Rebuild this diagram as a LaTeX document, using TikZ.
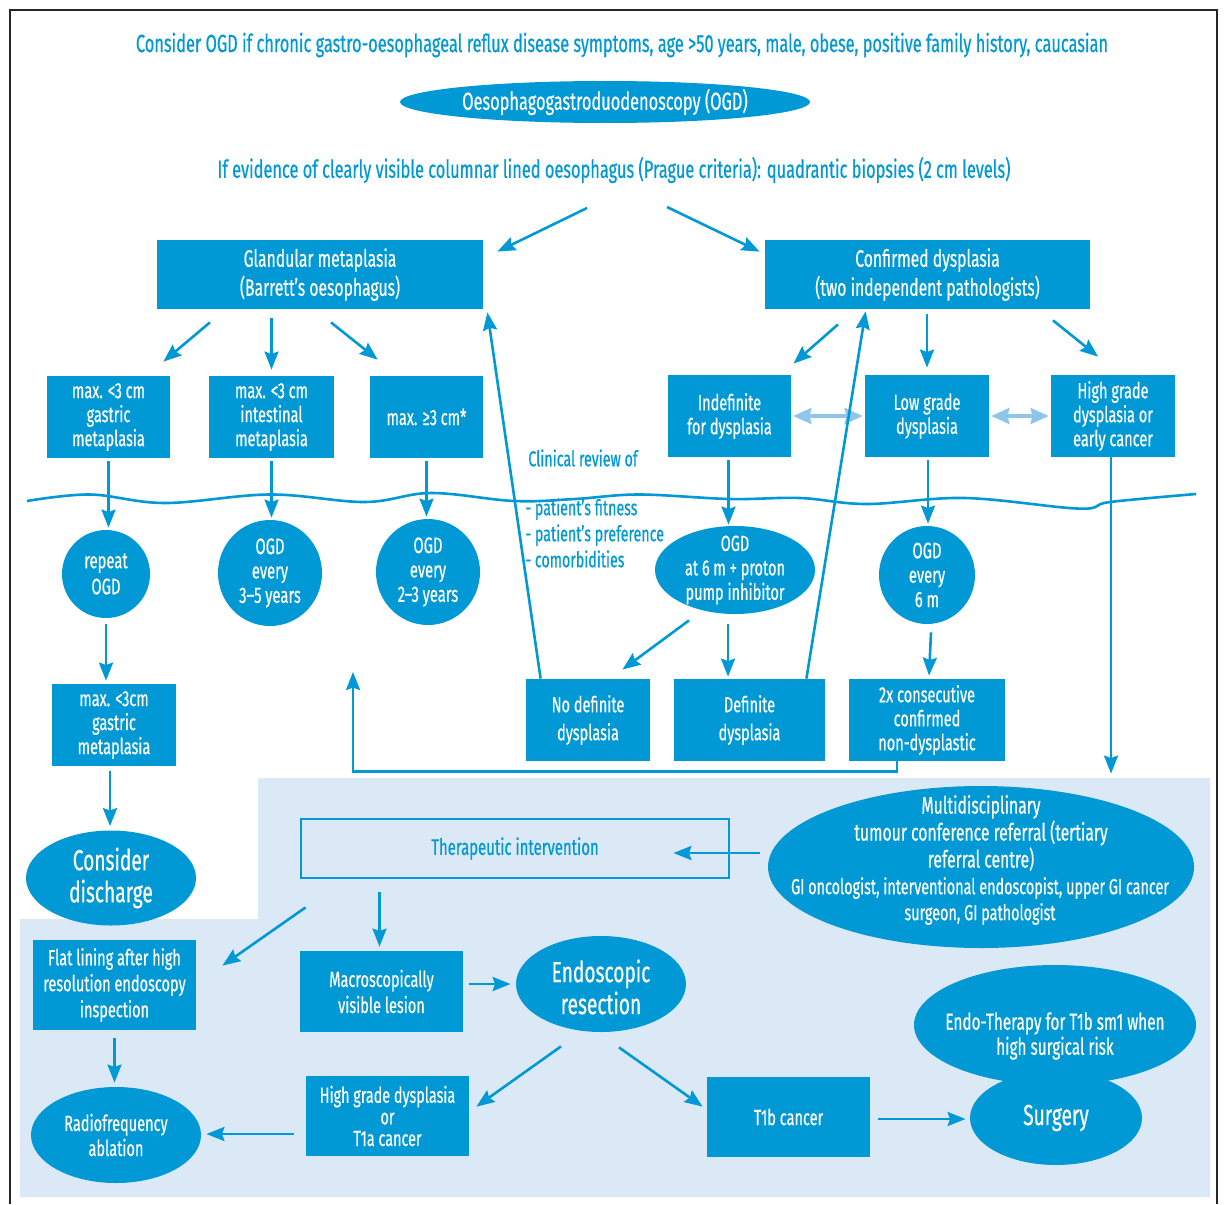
\documentclass[tikz,border=0pt]{standalone}
\usepackage{fontspec}
\setmainfont{Fira Sans}[FakeStretch=0.66,FakeBold=0.5]
\usetikzlibrary{arrows.meta,shapes.geometric,calc}
\definecolor{cb}{HTML}{0099D5}
\definecolor{lb}{HTML}{DBE9F6}
\definecolor{la}{HTML}{8EC5EA}
\newdimen\px \px=0.5pt
\newcommand\fsz[2]{\fontsize{#1pt}{#2pt}\selectfont}
\begin{document}
\begin{tikzpicture}[x=0.5pt,y=-0.5pt,
 sz/.style 2 args={minimum width=#1\px,minimum height=#2\px},
 bx/.style={rectangle,fill=cb,text=white,align=center,inner sep=0pt,font=\fsz{11}{12}},
 el/.style={ellipse,fill=cb,inner sep=0pt},
 elt/.style={text=white,align=center,inner sep=0pt,font=\fsz{11}{12.5}},
 bt/.style={text=cb,inner sep=0pt},
 ar/.style={draw=cb,line width=1.3pt,-{Stealth[length=9pt,width=7pt,inset=1.2pt]}},
 dar/.style={draw=la,line width=1.7pt,{Stealth[length=9pt,width=8pt,inset=1pt]}-{Stealth[length=9pt,width=8pt,inset=1pt]}},
 ln/.style={draw=cb,line width=1.3pt}]
\useasboundingbox (0,0) rectangle (1224,1204);
\fill[white] (0,0) rectangle (1224,1204);
\fill[lb] (258,778) -- (1210,778) -- (1210,1197) -- (20,1197) -- (20,919) -- (258,919) -- cycle;
\draw[black!85,line width=0.8pt] (10,1204) -- (10,10) -- (1217,10) -- (1217,1204);
% wavy line
\draw[ln] plot[smooth,tension=0.6] coordinates {(27,501) (90,494.5) (165,503) (270,494.5) (365,502) (431,493) (514,501) (575,499) (639,494.5) (730,499) (800,498) (867,504) (965,498) (1079,508.6) (1110,502) (1196,494)};
% top
\node[bt,font=\fsz{12.4}{14}] (top) at (622,45) {Consider OGD if chronic gastro-oesophageal reflux disease symptoms, age >50\,years, male, obese, positive family history, caucasian};
\node[el,sz={410}{42}] (ogd) at (605,102) {};
\node[elt,font=\fsz{12.4}{14}] (ogdt) at (605,102) {Oesophagogastroduodenoscopy (OGD)};
\node[bt,font=\fsz{12.4}{14}] (ev) at (614,170) {If evidence of clearly visible columnar lined oesophagus (Prague criteria): quadrantic biopsies (2\,cm levels)};
% row 1
\node[bx,sz={326}{69},font=\fsz{11.9}{14.5}] (gland) at (320,274.5) {Glandular metaplasia\\(Barrett’s oesophagus)};
\node[bx,sz={325}{69},font=\fsz{11.9}{14.5}] (conf) at (927.5,274.5) {Confirmed dysplasia\\(two independent pathologists)};
% row 2
\node[bx,sz={123}{82}] (mA) at (108.5,417) {max. <3\,cm\\gastric\\metaplasia};
\node[bx,sz={125}{82}] (mB) at (271.5,417) {max. <3\,cm\\intestinal\\metaplasia};
\node[bx,sz={113}{82}] (mC) at (426.5,417) {max. ≥3\,cm*};
\node[bx,sz={123}{82}] (ind) at (729.5,416) {Indefinite\\for dysplasia};
\node[bx,sz={124}{82}] (lgd) at (927,416) {Low grade\\dysplasia};
\node[bx,sz={124}{82}] (hgd1) at (1113,416) {High grade\\dysplasia or\\early cancer};
\node[bt,font=\fsz{10.8}{13}] (clin) at (583,458) {Clinical review of};
\node[bt,font=\fsz{10.8}{13},align=left,anchor=north west] (crit) at (525,498) {- patient’s fitness\\- patient’s preference\\- comorbidities};
% row 3
\node[el,sz={88}{88}] (rep) at (106,574) {};
\node[elt,font=\fsz{11.2}{13}] (rept) at (106,574) {repeat\\OGD};
\node[el,sz={104}{106}] (e35) at (270,573) {};
\node[elt,font=\fsz{11.2}{12.2}] (e35t) at (270,573) {OGD\\every\\3–5\,years};
\node[el,sz={104}{106}] (e23) at (428,572) {};
\node[elt,font=\fsz{11.2}{12.2}] (e23t) at (428,572) {OGD\\every\\2–3\,years};
\node[el,sz={160}{88}] (ppi) at (735,570) {};
\node[elt,font=\fsz{11}{12.2}] (ppit) at (735,570) {OGD\\at 6\,m + proton\\pump inhibitor};
\node[el,sz={96}{98}] (e6) at (927,575) {};
\node[elt,font=\fsz{11.2}{12.2}] (e6t) at (927,575) {OGD\\every\\6\,m};
% row 4
\node[bx,sz={124}{82}] (mD) at (114,725) {max. <3cm\\gastric\\metaplasia};
\node[bx,sz={124}{82},font=\fsz{11}{14}] (nodef) at (588,720) {No definite\\dysplasia};
\node[bx,sz={151}{82},font=\fsz{11}{14}] (def) at (749.5,720) {Definite\\dysplasia};
\node[bx,sz={156}{82}] (cons) at (927,720) {2x consecutive\\confirmed\\non-dysplastic};
% lower part
\node[el,sz={170}{95}] (dis) at (111,878) {};
\node[elt,font=\fsz{14.5}{16}] (dist) at (111,878) {Consider\\discharge};
\node[el,sz={426}{162}] (mdt) at (981,867) {};
\node[elt,font=\fsz{11.9}{13.5}] (mdta) at (981,833) {Multidisciplinary\\tumour conference referral (tertiary\\referral centre)};
\node[elt,font=\fsz{10.9}{13}] (mdtb) at (980,901) {GI oncologist, interventional endoscopist, upper GI cancer\\surgeon, GI pathologist};
\node[draw=cb,line width=1.4pt,sz={428}{59},text=cb,font=\fsz{11.3}{13},inner sep=0pt] (ther) at (515,848.5) {Therapeutic intervention};
\node[bx,sz={163}{90},font=\fsz{11}{13}] (flat) at (114.5,985) {Flat lining after high\\resolution endoscopy\\inspection};
\node[bx,sz={163}{81},font=\fsz{11}{13}] (macro) at (381.5,991.5) {Macroscopically\\visible lesion};
\node[el,sz={170}{96}] (endo) at (601,984) {};
\node[elt,font=\fsz{14.5}{16}] (endot) at (601,987) {Endoscopic\\resection};
\node[bx,sz={163}{80},font=\fsz{10.9}{10.8}] (hgd2) at (387.5,1116) {High grade dysplasia\\or\\T1a cancer};
\node[el,sz={170}{96}] (rfa) at (116,1135) {};
\node[elt] (rfat) at (116,1135) {Radiofrequency\\ablation};
\node[bx,sz={163}{80}] (t1b) at (788.5,1117) {T1b cancer};
\node[el,sz={282}{120}] (eth) at (1055,1025) {};
\node[el,sz={172}{94}] (surg) at (1056,1118) {};
\node[elt,font=\fsz{11.6}{12.5}] (etht) at (1055,1036) {Endo-Therapy for T1b sm1 when\\high surgical risk};
\node[elt,font=\fsz{14.5}{16}] (surgt) at (1056,1118) {Surgery};
% double arrows
\draw[dar] ($(ind.east)+(2,0)$) -- ($(lgd.west)+(-2,0)$);
\draw[dar] ($(lgd.east)+(2,0)$) -- ($(hgd1.west)+(-2,0)$);
% arrows
\draw[ar] ($(ev.center)+(-27,38)$) -- ($(gland.north east)+(14,12)$);
\draw[ar] ($(ev.center)+(53,37)$) -- ($(conf.north west)+(-5,12)$);
\draw[ar] ($(gland.south)+(-110,13)$) -- ($(mA.north east)+(-7,-14)$);
\draw[ar] ($(gland.south -| mB.north)+(0,9)$) -- ($(mB.north)+(0,-6)$);
\draw[ar] ($(gland.south)+(11,13)$) -- ($(mC.north west)+(8,-16)$);
\draw[ar] ($(conf.south)+(-89.5,15)$) -- ($(ind.north east)+(2,-11)$);
\draw[ar] ($(conf.south -| lgd.north)+(0,5)$) -- ($(lgd.north)+(0,-7)$);
\draw[ar] ($(conf.south)+(125.5,11)$) -- ($(hgd1.north)+(-15,-18)$);
\draw[ar] ($(mA.south)+(0,3)$) -- ($(mA.south |- rep.north)+(0,-2)$);
\draw[ar] ($(mB.south)+(0,3)$) -- ($(mB.south |- e35.north)+(0,-2)$);
\draw[ar] ($(mC.south)+(0,3)$) -- ($(mC.south |- e23.north)+(0,-2)$);
\draw[ar] ($(ind.south)+(-1,3)$) -- ($(ind.south |- ppi.north)+(-1,-1)$);
\draw[ar] ($(lgd.south)+(1,3)$) -- ($(lgd.south |- e6.north)+(1,-2)$);
\draw[ar] ($(ppi.south)+(-46,6)$) -- ($(nodef.north east)+(-28,-9)$);
\draw[ar] ($(ppi.south)+(-7,10)$) -- ($(ppi.south |- def.north)+(-7,-2)$);
\draw[ar] ($(e6.south)+(4,8)$) -- ($(cons.north)+(2,-3)$);
\draw[ar] ($(nodef.north west)+(15,0)$) -- ($(gland.south east)+(4,3)$);
\draw[ar] ($(def.north east)+(-19,0)$) -- ($(conf.south west)+(101,2)$);
\coordinate (loopend) at (353,672);
\draw[ar] ($(cons.south)+(-30,0)$) -- ++(0,10) -| (loopend);
\draw[ar] ($(hgd1.south)+(-2,0)$) -- ($(hgd1.south |- mdt.north)+(-2,-12)$);
\draw[ar] ($(rep.south)+(0,6)$) -- ($(rep.south |- mD.north)+(0,-3)$);
\draw[ar] ($(mD.south)+(-4,5)$) -- ($(mD.south |- dis.north)+(-4,-4)$);
\draw[ar] ($(mdt.west)+(-8,-14)$) -- ($(ther.east)+(-57,4.5)$);
\draw[ar] ($(macro.north |- ther.south)+(-2,13)$) -- ($(macro.north)+(-2,-4)$);
\draw[ar] ($(ther.south west)+(6,28)$) -- ($(flat.north east)+(26,26)$);
\draw[ar] ($(flat.south)+(0,8)$) -- ($(flat.south |- rfa.north)+(0,-4)$);
\draw[ar] ($(macro.east |- endo.west)+(6,0)$) -- ($(endo.west)+(-5,0)$);
\draw[ar] ($(endo.south)+(-40,14)$) -- ($(hgd2.north east)+(7,31)$);
\draw[ar] ($(endo.south)+(18,15)$) -- ($(t1b.north west)+(-4,30)$);
\draw[ar] ($(hgd2.west |- rfa.east)+(-12,-1)$) -- ($(rfa.east)+(5,-1)$);
\draw[ar] ($(t1b.east)+(8,2)$) -- ($(t1b.east -| surg.west)+(-4,2)$);
\end{tikzpicture}
\end{document}
